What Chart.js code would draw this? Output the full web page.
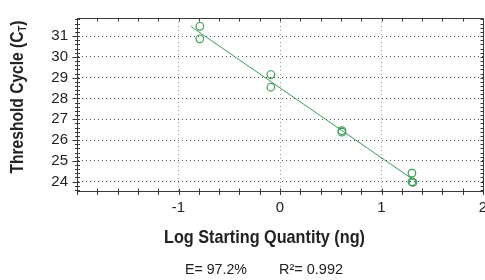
<!DOCTYPE html>
<html><head><meta charset="utf-8">
<script src="https://cdn.jsdelivr.net/npm/chart.js@4"></script>
<style>html,body{margin:0;padding:0;overflow:hidden;background:#fff}#wrap{width:500px;height:280px}</style>
</head><body><div id="wrap"><canvas id="c" width="500" height="280"></canvas></div>
<script>
// ---- data ----
const logQuantity    = [-0.79, -0.79, -0.09, -0.09, 0.61, 0.61, 1.30, 1.30, 1.31];
const thresholdCycle = [31.47, 30.87, 29.15, 28.54, 26.45, 26.38, 24.41, 23.99, 23.96];
const fitLogQuantity    = [-0.88, 1.32];
const fitThresholdCycle = [31.47, 24.07];
const xTickLabels = ['-1', '0', '1', '2'];
const yTickLabels = ['24', '25', '26', '27', '28', '29', '30', '31'];
const xTitle = 'Log Starting Quantity (ng)';
const yTitleMain = 'Threshold Cycle (C';
const yTitleSub = 'T';
const yTitleEnd = ')';
const efficiencyText = 'E= 97.2%';
const r2Text = 'R\u00B2= 0.992';

const FONT = '"Liberation Sans", Arial, sans-serif';
const GREEN = '#3a9d57';
const AXIS = '#3a3a3a';

const points = logQuantity.map((x, i) => ({x, y: thresholdCycle[i]}));
const fitLine = fitLogQuantity.map((x, i) => ({x, y: fitThresholdCycle[i]}));

// draw text squeezed horizontally to a given width (condensed look)
function squeezed(ctx, text, cx, cy, font, targetW) {
  ctx.font = font;
  const w = ctx.measureText(text).width;
  ctx.save();
  ctx.translate(cx, cy);
  ctx.scale(targetW / w, 1);
  ctx.textAlign = 'center'; ctx.textBaseline = 'middle';
  ctx.fillText(text, 0, 0);
  ctx.restore();
}

const decor = {
  id: 'decor',
  afterDraw(chart) {
    const ctx = chart.ctx, a = chart.chartArea;
    const xs = chart.scales.x, ys = chart.scales.y;
    ctx.save();
    ctx.strokeStyle = AXIS; ctx.lineWidth = 1;
    const L = Math.round(a.left) + 0.5, R = Math.round(a.right) + 0.5;
    const T = Math.round(a.top) + 0.5, B = Math.round(a.bottom) + 0.5;
    ctx.beginPath();
    ctx.moveTo(L, T); ctx.lineTo(R, T);
    ctx.moveTo(R, T); ctx.lineTo(R, B);
    for (let k = Math.ceil(ys.min * 5); k <= Math.floor(ys.max * 5); k++) {
      const v = k / 5, p = Math.round(ys.getPixelForValue(v)) + 0.5;
      const major = k % 5 === 0;
      ctx.moveTo(L - (major ? 5 : 2.5), p); ctx.lineTo(L + 2.5, p);
      ctx.moveTo(R - 3, p); ctx.lineTo(R, p);
    }
    for (let k = Math.ceil(xs.min * 5); k <= Math.floor(xs.max * 5); k++) {
      const v = k / 5, p = Math.round(xs.getPixelForValue(v)) + 0.5;
      ctx.moveTo(p, B - 3); ctx.lineTo(p, B + 3.5);
      ctx.moveTo(p, T); ctx.lineTo(p, T + 3);
    }
    ctx.stroke();
    ctx.fillStyle = '#222';
    // x title
    squeezed(ctx, xTitle, 264.5, 238, 'bold 19px ' + FONT, 201);
    // y title with subscript, rotated
    const big = 'bold 18px ' + FONT, small = 'bold 11px ' + FONT;
    ctx.font = big; const w1 = ctx.measureText(yTitleMain).width;
    ctx.font = small; const w2 = ctx.measureText(yTitleSub).width;
    ctx.font = big; const w3 = ctx.measureText(yTitleEnd).width;
    const total = w1 + w2 + w3, k = 153 / total;
    ctx.save();
    ctx.translate(18, 97);
    ctx.rotate(-Math.PI / 2);
    ctx.scale(k, 1);
    ctx.textAlign = 'left'; ctx.textBaseline = 'middle';
    let sx = -total / 2;
    ctx.font = big; ctx.fillText(yTitleMain, sx, 0);
    ctx.font = small; ctx.fillText(yTitleSub, sx + w1, 5);
    ctx.font = big; ctx.fillText(yTitleEnd, sx + w1 + w2, 0);
    ctx.restore();
    // stats
    squeezed(ctx, efficiencyText, 185 + 31, 270, '14px ' + FONT, 62);
    squeezed(ctx, r2Text, 279 + 32, 270, '14px ' + FONT, 64);
    ctx.restore();
  }
};

new Chart(document.getElementById('c'), {
  type: 'scatter',
  data: {
    datasets: [
      {
        type: 'line', data: fitLine, borderColor: GREEN, borderWidth: 1,
        pointRadius: 0, fill: false, tension: 0, order: 2
      },
      {
        data: points, borderColor: GREEN, backgroundColor: 'rgba(0,0,0,0)',
        pointRadius: 3.8, pointBorderWidth: 1.2, pointStyle: 'circle', order: 1
      }
    ]
  },
  options: {
    responsive: false, animation: false, devicePixelRatio: 1,
    layout: {padding: {left: 0, right: 17, top: 10, bottom: 0}},
    plugins: {legend: {display: false}, tooltip: {enabled: false}, title: {display: false}},
    scales: {
      x: {
        type: 'linear', min: -2, max: 2,
        afterFit(s) { s.height = 89; },
        ticks: {
          stepSize: 1, includeBounds: false, padding: 8, color: '#222',
          font: {family: FONT, size: 15},
          callback(v) { const s = String(Math.round(v)); return xTickLabels.includes(s) ? s : ''; }
        },
        grid: {color: 'rgba(120,120,120,0.75)', drawTicks: false, lineWidth: 1},
        border: {display: true, color: AXIS, width: 1, dash: [1, 3]}
      },
      y: {
        type: 'linear', min: 23.55, max: 31.87,
        afterFit(s) { s.width = 77; },
        ticks: {
          stepSize: 1, includeBounds: false, padding: 9, color: '#222',
          font: {family: FONT, size: 15},
          callback(v) { const s = String(Math.round(v)); return yTickLabels.includes(s) ? s : ''; }
        },
        grid: {color: 'rgba(50,50,50,0.85)', drawTicks: false, lineWidth: 1},
        border: {display: true, color: AXIS, width: 1, dash: [1, 3]}
      }
    }
  },
  plugins: [decor]
});
</script>
</body></html>
